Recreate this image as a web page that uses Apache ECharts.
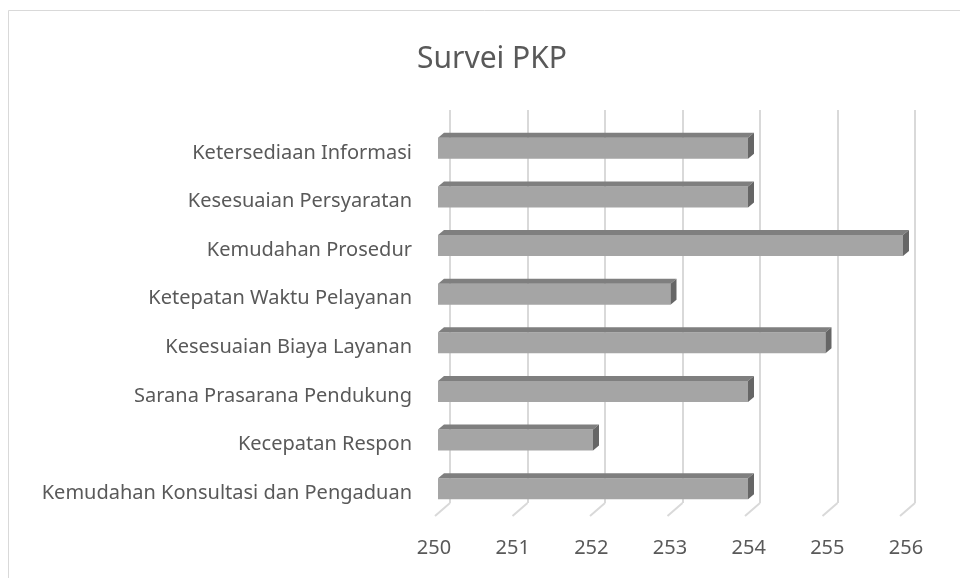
<!DOCTYPE html>
<html>
<head>
<meta charset="utf-8">
<script src="https://cdn.jsdelivr.net/npm/echarts@6/dist/echarts.min.js"></script>
<style>html,body{margin:0;padding:0;background:#fff}#c{width:960px;height:578px}</style>
</head>
<body>
<div id="c"></div>
<script>
const categories = [
  'Ketersediaan Informasi',
  'Kesesuaian Persyaratan',
  'Kemudahan Prosedur',
  'Ketepatan Waktu Pelayanan',
  'Kesesuaian Biaya Layanan',
  'Sarana Prasarana Pendukung',
  'Kecepatan Respon',
  'Kemudahan Konsultasi dan Pengaduan'
];
const values = [254, 254, 256, 253, 255, 254, 252, 254];
const tickValues = [250, 251, 252, 253, 254, 255, 256];
const axisMin = 250, axisMax = 256;

const FONT = '"Noto Sans", "Open Sans", sans-serif';
const TXT = '#595959';

const chart = echarts.init(document.getElementById('c'));
chart.setOption({
  animation: false,
  backgroundColor: '#ffffff',
  title: {
    text: 'Survei PKP',
    left: 487, top: 39, textAlign: 'center',
    textStyle: { fontFamily: FONT, fontSize: 30, fontWeight: 'normal', color: TXT }
  },
  graphic: [{
    type: 'rect', left: 6, top: 8, shape: { width: 1000, height: 1000 },
    style: { fill: 'none', stroke: '#d9d9d9', lineWidth: 1 }, silent: true
  }],
  grid: [
    { left: 450, right: 45, top: 110, height: 393 },   // back wall
    { left: 438, right: 57, top: 124, height: 389 },   // bars (front face)
    { left: 434, right: 54, top: 124, height: 389 },   // axis labels (front floor edge)
    { left: 438, right: 57, top: 128.5, height: 389 }  // category labels
  ],
  xAxis: [
    { gridIndex: 0, type: 'value', min: axisMin, max: axisMax, interval: 1,
      axisLine: { show: false }, axisTick: { show: false }, axisLabel: { show: false },
      splitLine: { show: true, lineStyle: { color: '#d9d9d9', width: 2 } } },
    { gridIndex: 1, type: 'value', min: axisMin, max: axisMax, interval: 1, show: false },
    { gridIndex: 2, type: 'value', min: axisMin, max: axisMax, interval: 1,
      axisLine: { show: false }, axisTick: { show: false }, splitLine: { show: false },
      axisLabel: { margin: 25, fontFamily: FONT, fontSize: 20, color: TXT,
        customValues: tickValues } },
    { gridIndex: 3, type: 'value', min: axisMin, max: axisMax, interval: 1, show: false }
  ],
  yAxis: [
    { gridIndex: 0, type: 'value', min: 0, max: 1, show: false },
    { gridIndex: 1, type: 'category', data: categories, inverse: true, show: false },
    { gridIndex: 2, type: 'value', min: 0, max: 1, show: false },
    { gridIndex: 3, type: 'category', data: categories, inverse: true,
      axisLine: { show: false }, axisTick: { show: false }, splitLine: { show: false },
      axisLabel: { margin: 26, fontFamily: FONT, fontSize: 20, color: TXT } }
  ],
  series: [
    {
      type: 'custom', xAxisIndex: 0, yAxisIndex: 0, silent: true,
      data: tickValues.map(v => [v, 0]),
      renderItem: function (params, api) {
        const p = api.coord([api.value(0), 0]);
        return { type: 'line', shape: { x1: p[0], y1: p[1], x2: p[0] - 15, y2: p[1] + 13 },
          style: { stroke: '#d9d9d9', lineWidth: 2 } };
      }
    },
    {
      type: 'custom', xAxisIndex: 1, yAxisIndex: 1, silent: true,
      encode: { x: 0, y: 1 },
      data: values.map((v, i) => [v, i]),
      renderItem: function (params, api) {
        const v = api.value(0), c = api.value(1);
        const p0 = api.coord([axisMin, c]);
        const p1 = api.coord([v, c]);
        const h = api.size([0, 1])[1] * 0.43;
        const x0 = p0[0], x1 = p1[0], y0 = p0[1] - h / 2, y1 = p0[1] + h / 2;
        const dx = 6, dy = 5;
        return { type: 'group', children: [
          { type: 'rect', shape: { x: x0, y: y0, width: x1 - x0, height: h }, style: { fill: '#a5a5a5' } },
          { type: 'polygon', shape: { points: [[x0, y0], [x0 + dx, y0 - dy], [x1 + dx, y0 - dy], [x1, y0]] }, style: { fill: '#7f7f7f' } },
          { type: 'polygon', shape: { points: [[x1, y0], [x1 + dx, y0 - dy], [x1 + dx, y1 - dy], [x1, y1]] }, style: { fill: '#666666' } }
        ] };
      }
    }
  ]
});
</script>
</body>
</html>
